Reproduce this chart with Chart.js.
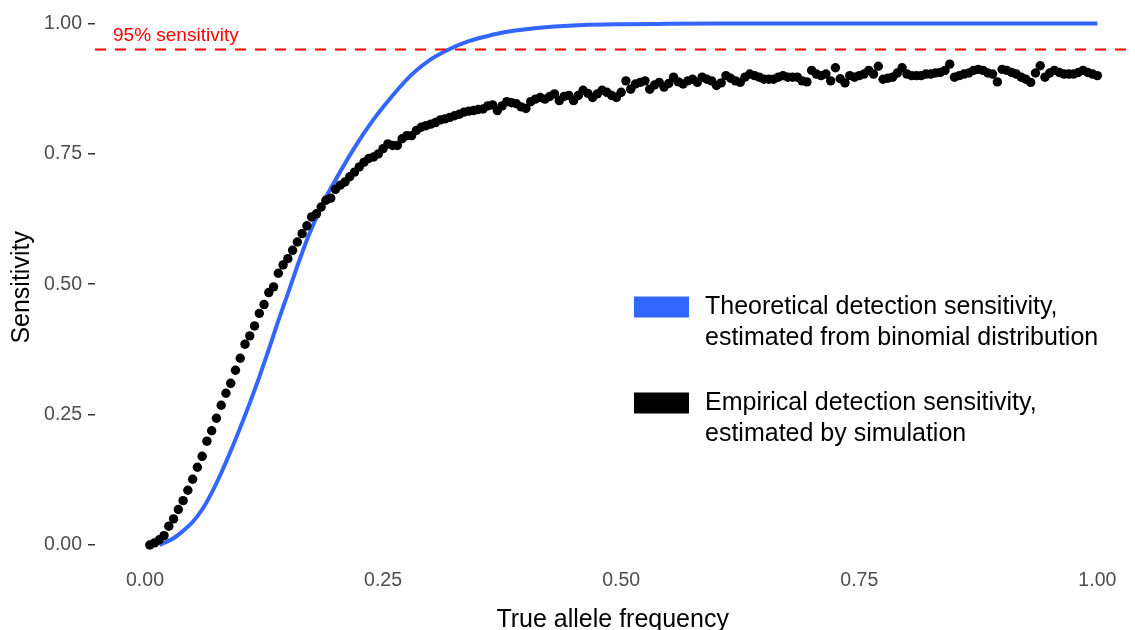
<!DOCTYPE html>
<html><head><meta charset="utf-8">
<script src="https://cdn.jsdelivr.net/npm/chart.js@4/dist/chart.umd.min.js"></script>
<style>html,body{margin:0;padding:0;background:#fff;overflow:hidden}#wrap{width:1135px;height:630px}</style>
</head><body><div id="wrap"><canvas id="c" width="1135" height="630"></canvas></div>
<script>
// ---- data ----
const tickValues = [0, 0.25, 0.5, 0.75, 1];
const tickLabels = ['0.00', '0.25', '0.50', '0.75', '1.00'];
const freqStep = 0.005; // empirical grid of true allele frequencies
const empiricalY = [
  0.000,0.004,0.010,0.018,0.036,0.050,0.068,0.085,0.105,0.126,
  0.149,0.170,0.199,0.219,0.243,0.268,0.291,0.310,0.335,0.358,
  0.385,0.401,0.420,0.444,0.461,0.484,0.495,0.521,0.537,0.549,
  0.565,0.581,0.597,0.612,0.629,0.635,0.648,0.661,0.665,0.682,
  0.690,0.696,0.706,0.715,0.725,0.734,0.741,0.744,0.750,0.760,
  0.769,0.766,0.766,0.779,0.785,0.785,0.795,0.801,0.804,0.807,
  0.810,0.815,0.817,0.820,0.823,0.826,0.830,0.832,0.833,0.835,
  0.836,0.842,0.844,0.833,0.842,0.850,0.848,0.846,0.840,0.837,
  0.850,0.855,0.858,0.855,0.860,0.865,0.852,0.860,0.862,0.852,
  0.862,0.872,0.866,0.858,0.865,0.872,0.868,0.862,0.858,0.868,
  0.890,0.874,0.884,0.887,0.890,0.874,0.882,0.887,0.878,0.885,
  0.897,0.888,0.884,0.890,0.893,0.887,0.897,0.893,0.890,0.881,
  0.886,0.900,0.895,0.890,0.887,0.897,0.903,0.900,0.897,0.893,
  0.893,0.893,0.897,0.900,0.897,0.897,0.897,0.890,0.888,0.910,
  0.903,0.900,0.903,0.890,0.915,0.894,0.886,0.900,0.897,0.900,
  0.903,0.910,0.903,0.918,0.893,0.895,0.897,0.905,0.915,0.903,
  0.900,0.900,0.900,0.903,0.903,0.905,0.906,0.910,0.922,0.897,
  0.900,0.903,0.905,0.910,0.912,0.910,0.905,0.903,0.888,0.912,
  0.910,0.906,0.903,0.897,0.893,0.887,0.905,0.919,0.897,0.905,
  0.910,0.906,0.903,0.903,0.903,0.906,0.910,0.906,0.903,0.900
];
const theoX = [0.015,0.02,0.03,0.04,0.05,0.06,0.07,0.08,0.09,0.10,0.11,0.12,0.13,0.14,0.15,0.16,0.17,0.18,0.19,0.20,
  0.22,0.24,0.26,0.28,0.30,0.32,0.34,0.36,0.38,0.40,0.43,0.46,0.50,0.55,0.60,0.70,0.80,0.90,1.00];
const theoY = [0,0.004,0.013,0.027,0.044,0.068,0.100,0.138,0.180,0.225,0.272,0.322,0.375,0.430,0.482,0.535,0.585,0.628,0.667,0.700,
  0.762,0.816,0.862,0.902,0.931,0.951,0.966,0.976,0.984,0.989,0.994,0.997,0.9985,0.9993,0.9998,1,1,1,1];
const thresholdValue = 0.95;
const thresholdLabel = '95% sensitivity';
const seriesNames = [
  ['Theoretical detection sensitivity,', 'estimated from binomial distribution'],
  ['Empirical detection sensitivity,', 'estimated by simulation']
];
const seriesColors = ['#3366FF', '#000000'];
const xTitle = 'True allele frequency';
const yTitle = 'Sensitivity';

// ---- build ----
const FONT = '"Liberation Sans", Arial, Helvetica, sans-serif';
const empiricalPts = empiricalY.map((v, i) => ({x: +((i + 1) * freqStep).toFixed(3), y: v}));
const theoPts = theoX.map((x, i) => ({x, y: theoY[i]}));

const overlay = {
  id: 'overlay',
  afterDatasetsDraw(chart) {
    const {ctx, chartArea: a, scales: {y}} = chart;
    const py = y.getPixelForValue(thresholdValue);
    ctx.save();
    ctx.strokeStyle = '#FF0000';
    ctx.lineWidth = 2;
    ctx.setLineDash([11, 9]);
    ctx.beginPath(); ctx.moveTo(a.left, py); ctx.lineTo(1135, py); ctx.stroke();
    ctx.setLineDash([]);
    ctx.fillStyle = '#FF0000';
    ctx.font = '19px ' + FONT;
    ctx.textAlign = 'left'; ctx.textBaseline = 'alphabetic';
    ctx.fillText(thresholdLabel, a.left + 18, py - 9);

    // legend
    const keyX = 634, keyW = 55, keyH = 21, textX = 705;
    const blockTop = [307, 403];
    ctx.font = '25px ' + FONT;
    ctx.textBaseline = 'middle';
    seriesNames.forEach((lines, k) => {
      const cy = blockTop[k];
      ctx.fillStyle = seriesColors[k];
      ctx.fillRect(keyX, cy - keyH / 2, keyW, keyH);
      ctx.fillStyle = '#000000';
      lines.forEach((t, j) => ctx.fillText(t, textX, cy + j * 31));
    });
    ctx.restore();
  }
};

const tickFont = {family: FONT, size: 19.5};

function zeroPad(s) { s.paddingTop = 0; s.paddingBottom = 0; s.paddingLeft = 0; s.paddingRight = 0; }

new Chart(document.getElementById('c'), {
  type: 'scatter',
  data: {
    datasets: [
      {
        label: 'Empirical',
        data: empiricalPts,
        showLine: false,
        pointRadius: 4.7,
        pointBackgroundColor: seriesColors[1],
        pointBorderWidth: 0,
        pointHoverRadius: 4.7
      },
      {
        label: 'Theoretical',
        data: theoPts,
        showLine: true,
        borderColor: seriesColors[0],
        borderWidth: 4,
        pointRadius: 0,
        cubicInterpolationMode: 'monotone',
        fill: false
      }
    ]
  },
  options: {
    responsive: false,
    animation: false,
    devicePixelRatio: 1,
    layout: {padding: 0},
    plugins: {legend: {display: false}, tooltip: {enabled: false}},
    scales: {
      x: {
        type: 'linear', min: -0.0525, max: 1.0346,
        afterBuildTicks: s => { s.ticks = tickValues.map(v => ({value: v})); },
        afterFit: s => { s.height = 60; zeroPad(s); },
        ticks: {callback: (v) => tickLabels[tickValues.indexOf(v)], color: '#4D4D4D', font: tickFont, padding: -1, maxRotation: 0},
        grid: {drawOnChartArea: false, drawTicks: false},
        border: {display: false},
        title: {display: true, text: xTitle, color: '#000', font: {family: FONT, size: 25, lineHeight: 1}, padding: {top: 0, bottom: -3}}
      },
      y: {
        type: 'linear', min: -0.048, max: 1.036,
        afterBuildTicks: s => { s.ticks = tickValues.map(v => ({value: v})); },
        afterFit: s => { s.width = 95; zeroPad(s); },
        ticks: {callback: (v) => tickLabels[tickValues.indexOf(v)], color: '#4D4D4D', font: tickFont, padding: 6},
        grid: {drawOnChartArea: false, drawTicks: true, tickLength: 7, tickColor: '#333333', lineWidth: 1.5},
        border: {display: false},
        title: {display: true, text: yTitle, color: '#000', font: {family: FONT, size: 25, lineHeight: 1.2}, padding: {top: 7, bottom: 0}}
      }
    }
  },
  plugins: [overlay]
});
</script>
</body></html>
